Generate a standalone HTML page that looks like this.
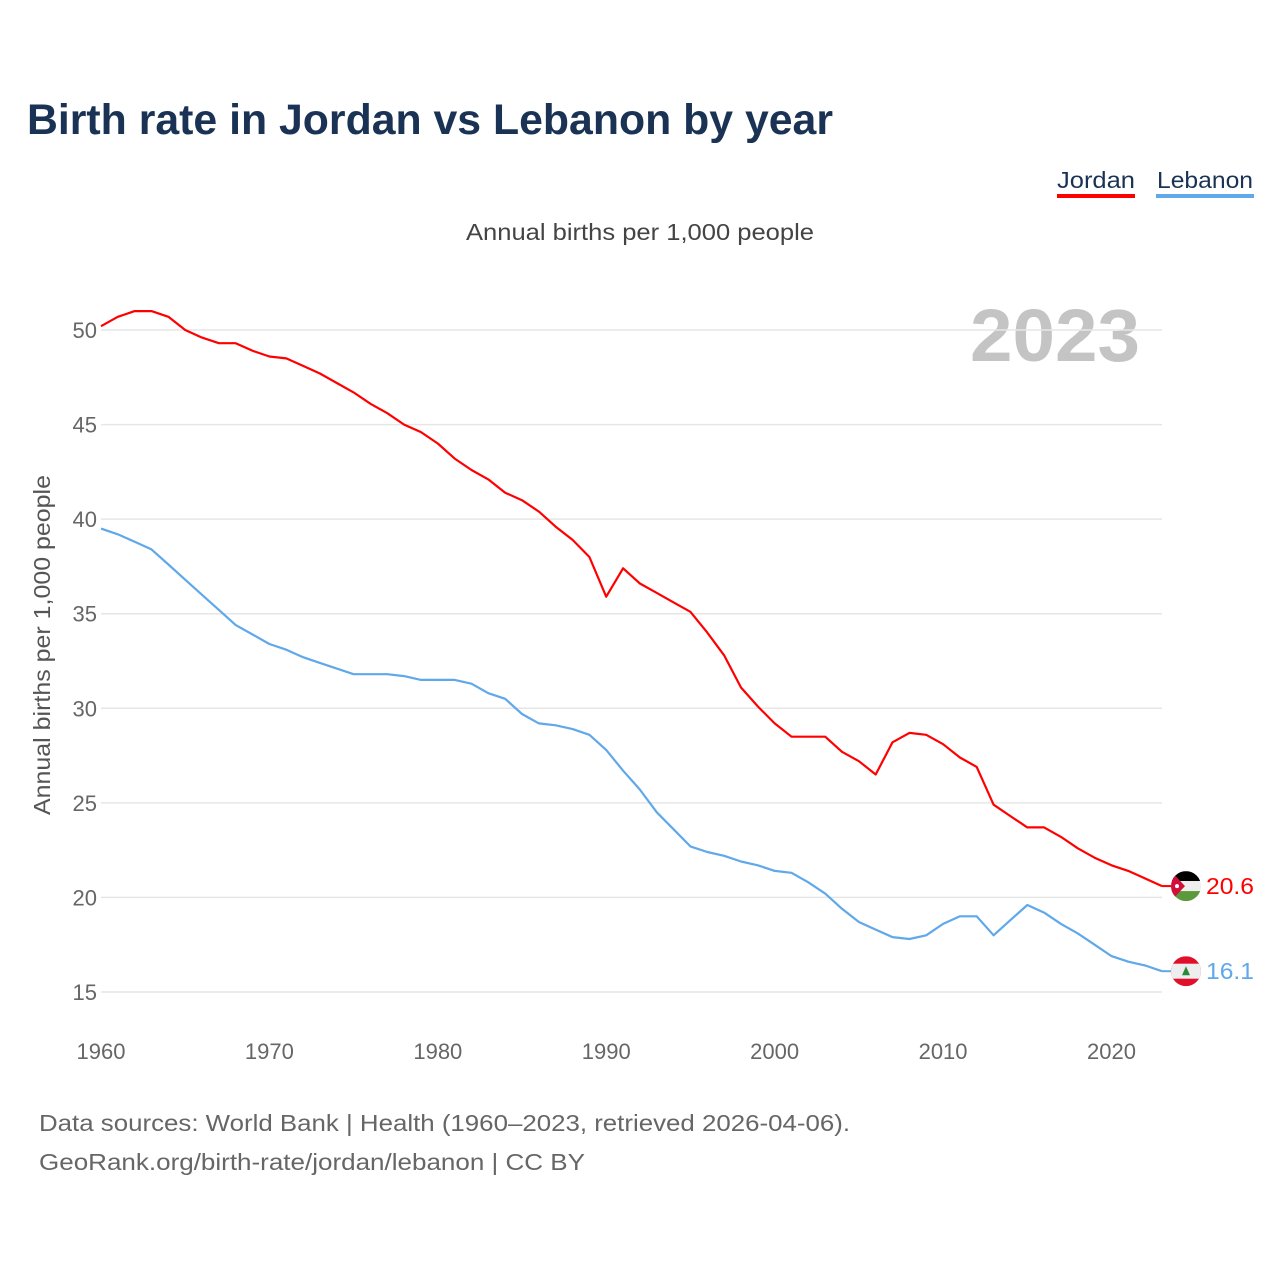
<!DOCTYPE html>
<html><head><meta charset="utf-8">
<style>
html,body{margin:0;padding:0;background:#fff;}
body{width:1280px;height:1280px;overflow:hidden;font-family:"Liberation Sans",sans-serif;}
</style></head>
<body>
<svg id="chart" width="1280" height="1280" viewBox="0 0 1280 1280" xmlns="http://www.w3.org/2000/svg" font-family="Liberation Sans, sans-serif">
<defs>
<clipPath id="cj"><circle cx="0" cy="0" r="15"/></clipPath>
</defs>
<text x="27" y="134" font-size="43" font-weight="bold" fill="#1a3355" textLength="806" lengthAdjust="spacingAndGlyphs">Birth rate in Jordan vs Lebanon by year</text>
<g>
<text x="1057" y="188" font-size="23" fill="#1a3355" textLength="78" lengthAdjust="spacingAndGlyphs">Jordan</text>
<rect x="1057" y="194" width="78" height="4" fill="#ff0000"/>
<text x="1157" y="188" font-size="23" fill="#1a3355" textLength="96" lengthAdjust="spacingAndGlyphs">Lebanon</text>
<rect x="1156" y="194" width="98" height="4" fill="#5fa8ea"/>
</g>
<text x="466" y="240" font-size="23" fill="#444" textLength="348" lengthAdjust="spacingAndGlyphs">Annual births per 1,000 people</text>
<text x="970" y="361" font-size="74" font-weight="bold" fill="#c4c4c4" textLength="170" lengthAdjust="spacingAndGlyphs">2023</text>
<text transform="translate(50,645) rotate(-90)" text-anchor="middle" font-size="23" fill="#555" textLength="340" lengthAdjust="spacingAndGlyphs">Annual births per 1,000 people</text>
<g id="grid"></g>
<g id="yticks"></g>
<g id="xticks"></g>
<g id="series"></g>
<g id="jflag"></g>
<g id="lflag"></g>
<text x="39" y="1131" font-size="23" fill="#666" textLength="811" lengthAdjust="spacingAndGlyphs">Data sources: World Bank | Health (1960–2023, retrieved 2026-04-06).</text>
<text x="39" y="1170" font-size="23" fill="#666" textLength="546" lengthAdjust="spacingAndGlyphs">GeoRank.org/birth-rate/jordan/lebanon | CC BY</text>
</svg>
<script>
const years = [];
for (let y = 1960; y <= 2023; y++) years.push(y);
const jordan = [50.2,50.7,51.0,51.0,50.7,50.0,49.6,49.3,49.3,48.9,48.6,48.5,48.1,47.7,47.2,46.7,46.1,45.6,45.0,44.6,44.0,43.2,42.6,42.1,41.4,41.0,40.4,39.6,38.9,38.0,35.9,37.4,36.6,36.1,35.6,35.1,34.0,32.8,31.1,30.1,29.2,28.5,28.5,28.5,27.7,27.2,26.5,28.2,28.7,28.6,28.1,27.4,26.9,24.9,24.3,23.7,23.7,23.2,22.6,22.1,21.7,21.4,21.0,20.6];
const lebanon = [39.5,39.2,38.8,38.4,37.6,36.8,36.0,35.2,34.4,33.9,33.4,33.1,32.7,32.4,32.1,31.8,31.8,31.8,31.7,31.5,31.5,31.5,31.3,30.8,30.5,29.7,29.2,29.1,28.9,28.6,27.8,26.7,25.7,24.5,23.6,22.7,22.4,22.2,21.9,21.7,21.4,21.3,20.8,20.2,19.4,18.7,18.3,17.9,17.8,18.0,18.6,19.0,19.0,18.0,18.8,19.6,19.2,18.6,18.1,17.5,16.9,16.6,16.4,16.1];
const yTicks = [15,20,25,30,35,40,45,50];
const xTicks = [1960,1970,1980,1990,2000,2010,2020];

const NS = "http://www.w3.org/2000/svg";
const xS = y => 101 + (y - 1960) * (1162 - 101) / 63;
const yS = v => 330 + (50 - v) * (992 - 330) / 35;
function mk(tag, attrs, parent) {
  const e = document.createElementNS(NS, tag);
  for (const k in attrs) e.setAttribute(k, attrs[k]);
  parent.appendChild(e);
  return e;
}
const grid = document.getElementById('grid'), yt = document.getElementById('yticks'), xt = document.getElementById('xticks'), ser = document.getElementById('series');
yTicks.forEach(v => {
  const l = mk('line', {x1: 101, x2: 1162, y1: yS(v), y2: yS(v), stroke: '#e6e6e6', 'stroke-width': 1.5}, grid);
  
  
  const t = mk('text', {x: 97, y: yS(v) + 8, 'text-anchor': 'end', 'font-size': 22, fill: '#666'}, yt);
  t.textContent = v;
  
  
});
xTicks.forEach(v => {
  const t = mk('text', {x: xS(v), y: 1059, 'text-anchor': 'middle', 'font-size': 22, fill: '#666'}, xt);
  t.textContent = v;
  
  
});
function line(data, color, name) {
  const d = data.map((v, i) => (i ? 'L' : 'M') + xS(years[i]).toFixed(1) + ',' + yS(v).toFixed(1)).join('');
  const p = mk('path', {d: d, fill: 'none', stroke: color, 'stroke-width': 2.2, 'stroke-linejoin': 'round'}, ser);
  
  
}
line(jordan, '#ff0000', 'jordan-line');
line(lebanon, '#5fa8ea', 'lebanon-line');

const lastJ = jordan[jordan.length - 1], lastL = lebanon[lebanon.length - 1];
const jg = document.getElementById('jflag');
const jy = yS(lastJ);
mk('line', {x1: 1162, x2: 1172, y1: jy, y2: jy, stroke: '#ff0000', 'stroke-width': 2}, jg);
const jf = mk('g', {transform: 'translate(1186,' + jy + ')', 'clip-path': 'url(#cj)'}, jg);
mk('rect', {x: -15, y: -15, width: 30, height: 10, fill: '#000'}, jf);
mk('rect', {x: -15, y: -5, width: 30, height: 10, fill: '#eee'}, jf);
mk('rect', {x: -15, y: 5, width: 30, height: 10, fill: '#5b9a3b'}, jf);
mk('polygon', {points: '-15,-15 -1,0 -15,15', fill: '#d0103a'}, jf);
mk('circle', {cx: -9, cy: 0, r: 2, fill: '#fff'}, jf);
const jt = mk('text', {x: 1206, y: jy + 8, 'font-size': 23, fill: '#ff0000', textLength: 48, lengthAdjust: 'spacingAndGlyphs'}, jg);
jt.textContent = lastJ.toFixed(1);



const lg = document.getElementById('lflag');
const ly = yS(lastL);
mk('line', {x1: 1162, x2: 1172, y1: ly, y2: ly, stroke: '#5fa8ea', 'stroke-width': 2}, lg);
const lf = mk('g', {transform: 'translate(1186,' + ly + ')', 'clip-path': 'url(#cj)'}, lg);
mk('rect', {x: -15, y: -15, width: 30, height: 30, fill: '#e0102a'}, lf);
mk('rect', {x: -15, y: -7.5, width: 30, height: 15, fill: '#eee'}, lf);
mk('polygon', {points: '0,-5 4,4 -4,4', fill: '#2a8a3a'}, lf);
const lt = mk('text', {x: 1206, y: ly + 8, 'font-size': 23, fill: '#5fa8ea', textLength: 48, lengthAdjust: 'spacingAndGlyphs'}, lg);
lt.textContent = lastL.toFixed(1);


</script>
</body></html>
